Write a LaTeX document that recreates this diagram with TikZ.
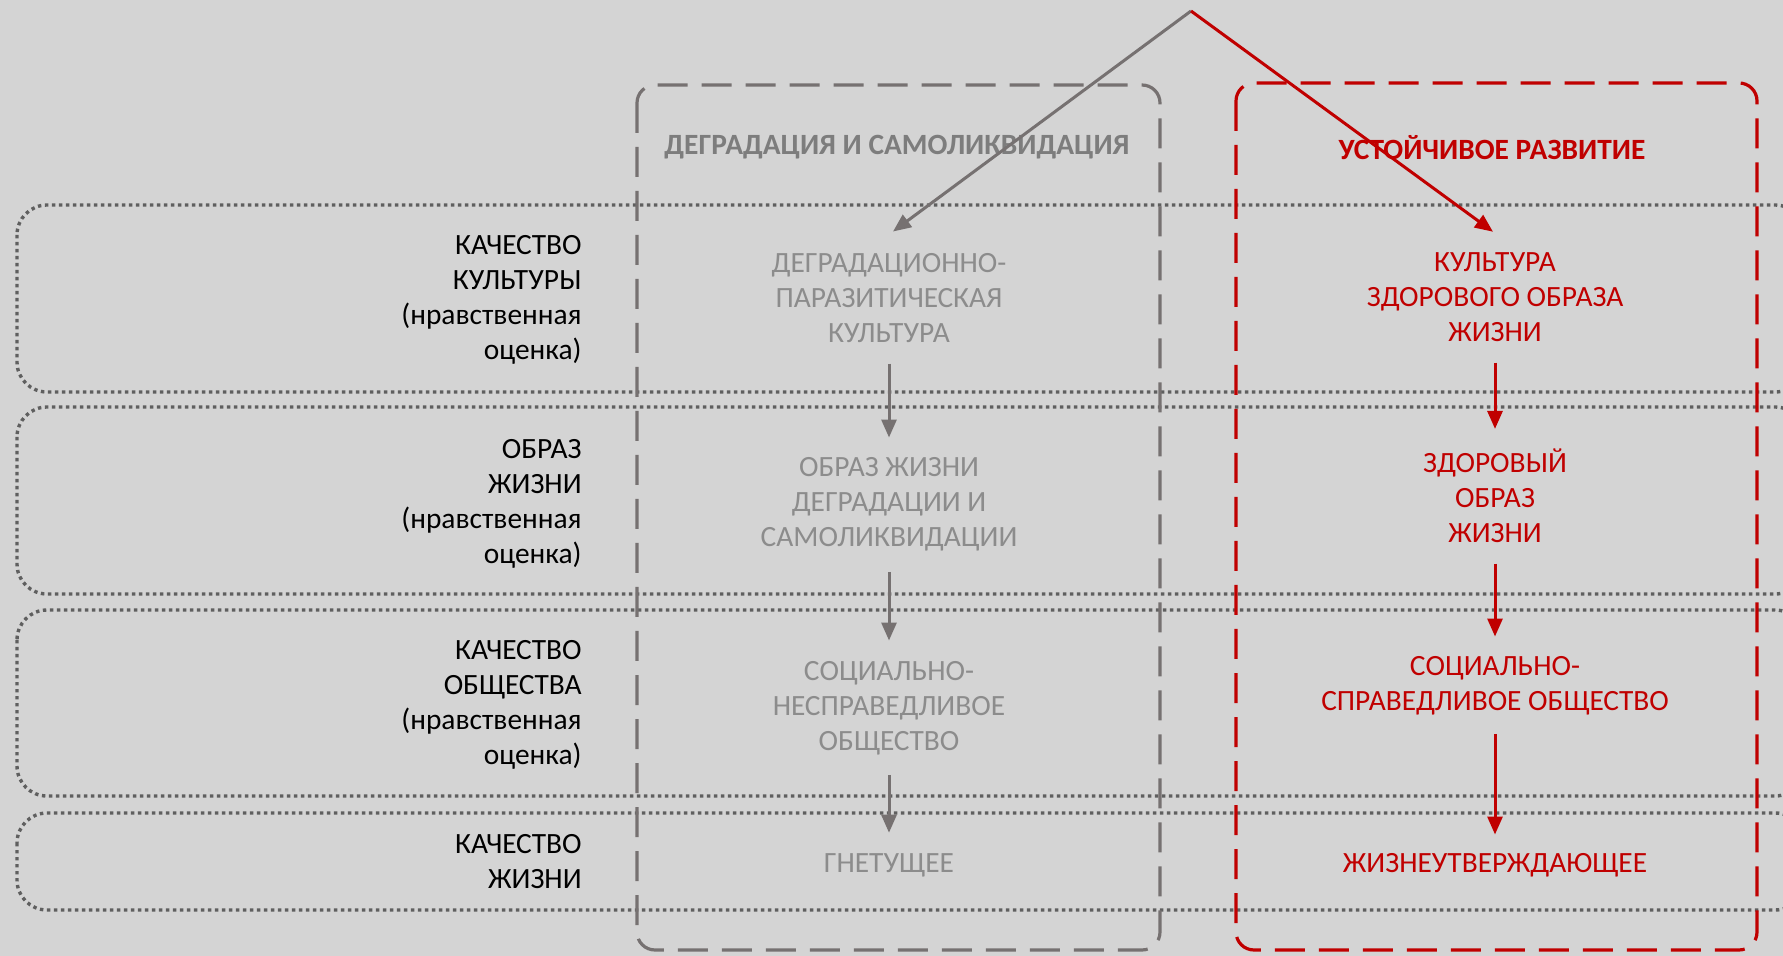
\documentclass[tikz,border=0pt]{standalone}
\usepackage{fontspec}
\setmainfont{Carlito}
\usepackage{xcolor}
\definecolor{canvas}{RGB}{212,212,212}
\definecolor{rowline}{RGB}{95,95,95}
\definecolor{degrade}{RGB}{118,113,113}
\definecolor{degradetitle}{RGB}{125,125,125}
\definecolor{degradetext}{RGB}{140,140,140}
\definecolor{sustain}{RGB}{192,0,0}
\usetikzlibrary{arrows.meta}
\usetikzlibrary{positioning}
\usetikzlibrary{calc}

\tikzset{
	rowbox/.style={draw=rowline, line width=1.7pt, dash pattern=on 1.7pt off 1.8pt, rounded corners=15pt},
	colbox/.style={line width=1.6pt, dash pattern=on 15pt off 7pt, rounded corners=9pt},
	rowlabel/.style={anchor=base east, align=right, inner sep=0pt, text=black},
	txt/.style={anchor=base, align=center, inner sep=0pt},
	flow/.style={line width=1.5pt, -{Triangle[length=9pt,width=7.5pt]}, shorten <=10pt, shorten >=10pt},
}

\begin{document}
\begin{tikzpicture}[x=0.5pt,y=-0.5pt, font=\fontsize{14.7}{17.5}\selectfont]
		%canvas
		\useasboundingbox (0,0) rectangle (1783,956);
		\fill[canvas] (0,0) rectangle (1783,956);
		\clip (0,0) rectangle (1783,956);

		%draw dotted rows
		\foreach \t/\b in {205/392,407/594,610/796,813/910}
		\draw[rowbox] (17,\t) rectangle (1805,\b);

		%draw dashed columns
		\draw[colbox, draw=degrade] (637,85) rectangle (1160,950);
		\draw[colbox, draw=sustain] (1236,83) rectangle (1757,950);

		%row names (placed by the last line)
		\node[rowlabel] (qcult) at (582,360) {КАЧЕСТВО\\КУЛЬТУРЫ\\(нравственная\\оценка)};
		\node[rowlabel] (wlife) at (582,564) {ОБРАЗ\\ЖИЗНИ\\(нравственная\\оценка)};
		\node[rowlabel] (qsoc) at (582,764) {КАЧЕСТВО\\ОБЩЕСТВА\\(нравственная\\оценка)};
		\node[rowlabel] (qlife) at (582,888) {КАЧЕСТВО\\ЖИЗНИ};

		%titles
		\node[txt, text=degradetitle] (tdeg) at (897,155) {\bfseries ДЕГРАДАЦИЯ И САМОЛИКВИДАЦИЯ};
		\node[txt, text=sustain] (tsus) at (1492,160) {\bfseries УСТОЙЧИВОЕ РАЗВИТИЕ};

		%gray column
		\node[txt, text=degradetext] (deg1) at (889,343) {ДЕГРАДАЦИОННО-\\ПАРАЗИТИЧЕСКАЯ\\КУЛЬТУРА};
		\node[txt, text=degradetext] (deg2) at (889,547) {ОБРАЗ ЖИЗНИ\\ДЕГРАДАЦИИ И\\САМОЛИКВИДАЦИИ};
		\node[txt, text=degradetext] (deg3) at (889,750) {СОЦИАЛЬНО-\\НЕСПРАВЕДЛИВОЕ\\ОБЩЕСТВО};
		\node[txt, text=degradetext] (deg4) at (889,872) {ГНЕТУЩЕЕ};

		%red column
		\node[txt, text=sustain] (sus1) at (1495,342) {КУЛЬТУРА\\ЗДОРОВОГО ОБРАЗА\\ЖИЗНИ};
		\node[txt, text=sustain] (sus2) at (1495,543) {ЗДОРОВЫЙ\\ОБРАЗ\\ЖИЗНИ};
		\node[txt, text=sustain] (sus3) at (1495,711) {СОЦИАЛЬНО-\\СПРАВЕДЛИВОЕ ОБЩЕСТВО};
		\node[txt, text=sustain] (sus4) at (1495,872) {ЖИЗНЕУТВЕРЖДАЮЩЕЕ};

		%arrows
		\coordinate (fork) at (1191,11);
		\draw[flow, color=degrade, shorten <=0pt, shorten >=0pt] (fork) -- ([shift={(4,-22)}]deg1.north);
		\draw[flow, color=sustain, shorten <=0pt, shorten >=0pt] (fork) -- ([shift={(-2,-21)}]sus1.north);
		\draw[flow, color=degrade] (deg1) -- (deg2);
		\draw[flow, color=degrade] (deg2) -- (deg3);
		\draw[flow, color=degrade] (deg3) -- (deg4);
		\draw[flow, color=sustain] (sus1) -- (sus2);
		\draw[flow, color=sustain] (sus2) -- (sus3);
		\draw[flow, color=sustain, shorten <=9pt, shorten >=9pt] (sus3) -- (sus4);
	\end{tikzpicture}
\end{document}
